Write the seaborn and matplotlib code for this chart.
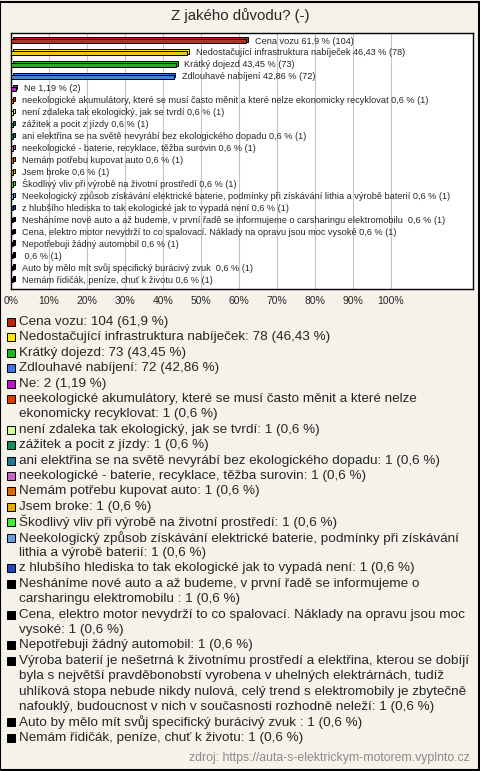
import matplotlib
matplotlib.use("Agg")
import numpy as np
import pandas as pd
import matplotlib.pyplot as plt
import seaborn as sns
from matplotlib.patches import Rectangle

# data
bar_labels = [
    "Cena vozu",
    "Nedostačující infrastruktura nabíječek",
    "Krátký dojezd",
    "Zdlouhavé nabíjení",
    "Ne",
    "neekologické akumulátory, které se musí často měnit a které nelze ekonomicky recyklovat",
    "není zdaleka tak ekologický, jak se tvrdí",
    "zážitek a pocit z jízdy",
    "ani elektřina se na světě nevyrábí bez ekologického dopadu",
    "neekologické - baterie, recyklace, těžba surovin",
    "Nemám potřebu kupovat auto",
    "Jsem broke",
    "Škodlivý vliv při výrobě na životní prostředí",
    "Neekologický způsob získávání elektrické baterie, podmínky při získávání lithia a výrobě baterií",
    "z hlubšího hlediska to tak ekologické jak to vypadá není",
    "Nesháníme nové auto a až budeme, v první řadě se informujeme o carsharingu elektromobilu ",
    "Cena, elektro motor nevydrží to co spalovací. Náklady na opravu jsou moc vysoké",
    "Nepotřebuji žádný automobil",
    "",
    "Auto by mělo mít svůj specifický burácivý zvuk ",
    "Nemám řidičák, peníze, chuť k životu",
]
legend_labels = [
    "Cena vozu",
    "Nedostačující infrastruktura nabíječek",
    "Krátký dojezd",
    "Zdlouhavé nabíjení",
    "Ne",
    "neekologické akumulátory, které se musí často měnit a které nelze\nekonomicky recyklovat",
    "není zdaleka tak ekologický, jak se tvrdí",
    "zážitek a pocit z jízdy",
    "ani elektřina se na světě nevyrábí bez ekologického dopadu",
    "neekologické - baterie, recyklace, těžba surovin",
    "Nemám potřebu kupovat auto",
    "Jsem broke",
    "Škodlivý vliv při výrobě na životní prostředí",
    "Neekologický způsob získávání elektrické baterie, podmínky při získávání\nlithia a výrobě baterií",
    "z hlubšího hlediska to tak ekologické jak to vypadá není",
    "Nesháníme nové auto a až budeme, v první řadě se informujeme o\ncarsharingu elektromobilu ",
    "Cena, elektro motor nevydrží to co spalovací. Náklady na opravu jsou moc\nvysoké",
    "Nepotřebuji žádný automobil",
    "Výroba baterií je nešetrná k životnímu prostředí a elektřina, kterou se dobíjí\n"
    "byla s největší pravděbonobstí vyrobena v uhelných elektrárnách, tudíž\n"
    "uhlíková stopa nebude nikdy nulová, celý trend s elektromobily je zbytečně\n"
    "nafouklý, budoucnost v nich v současnosti rozhodně neleží",
    "Auto by mělo mít svůj specifický burácivý zvuk ",
    "Nemám řidičák, peníze, chuť k životu",
]
counts = [104, 78, 73, 72, 2] + [1] * 16
percents = [61.9, 46.43, 43.45, 42.86, 1.19] + [0.6] * 16
colors = ["#c0230f", "#ffe800", "#1cb81c", "#4272e8", "#c012c8", "#dc3a06",
          "#ccff99", "#14905a", "#1f7a90", "#c864c8", "#e06a00", "#e4ac00",
          "#44ee33", "#6b9be0", "#2248c0"] + ["#000000"] * 6
x_ticks = list(range(0, 101, 10))


def fmt(v):
    return f"{v:g}".replace(".", ",")


df = pd.DataFrame({"row": [str(i) for i in range(len(percents))],
                   "pct": percents, "color": colors})

sns.set_style("white")
plt.rcParams["font.family"] = ["Liberation Sans", "DejaVu Sans"]

bg = "#f4f2e9"
fig = plt.figure(figsize=(4.8, 7.71), dpi=100, facecolor=bg)
W, H = 480, 771
ax = fig.add_axes([11 / W, 1 - 289 / H, (473 - 11) / W, (289 - 33) / H])
ax.set_facecolor("white")

n = len(percents)
ypos = np.arange(n)
# back face for the 3D look
ax.barh(ypos - 0.13, df["pct"], left=0.4, height=0.36, color=colors,
        edgecolor="black", linewidth=0.7, zorder=2)
sns.barplot(data=df, x="pct", y="row", hue="row", palette=colors, legend=False,
            orient="h", width=0.36, edgecolor="black", linewidth=0.7, ax=ax,
            zorder=3)

for i in range(n):
    txt = f"{bar_labels[i]} {fmt(percents[i])} % ({counts[i]})"
    ax.annotate(txt, (percents[i], i), xytext=(6, 0), textcoords="offset points",
                va="center", ha="left", fontsize=6.6, zorder=4)

ax.set_xlim(0, 121.6)
ax.set_ylim(n - 0.25, -0.67)
ax.set_xticks(x_ticks)
ax.set_xticklabels([f"{t}%" for t in x_ticks], fontsize=7.5)
ax.tick_params(axis="x", length=0, pad=5)
ax.set_yticks([])
ax.set_xlabel("")
ax.set_ylabel("")
ax.grid(axis="x", color="#c4c4c4", linewidth=0.8)
ax.set_axisbelow(True)
for s in ax.spines.values():
    s.set_color("black")
    s.set_linewidth(1)

fig.text(0.5, 1 - 16 / H, "Z jakého důvodu? (-)", ha="center", va="center",
         fontsize=10.8)

# legend below the chart
y = 322
step = 15.4
for i in range(n):
    lines = f"{legend_labels[i]}: {counts[i]} ({fmt(percents[i])} %)".split("\n")
    fig.patches.append(Rectangle((7 / W, 1 - (y + 4) / H), 8 / W, 8 / H,
                                 transform=fig.transFigure, facecolor=colors[i],
                                 edgecolor="black", linewidth=0.7))
    for line in lines:
        fig.text(19 / W, 1 - y / H, line, ha="left", va="center", fontsize=9.7)
        y += step

fig.text(470 / W, 1 - 758 / H, "zdroj: https://auta-s-elektrickym-motorem.vyplnto.cz",
         ha="right", va="center", fontsize=8.8, color="#8a8a8a")

fig.patches.append(Rectangle((0.001, 0.001), 0.997, 0.997, transform=fig.transFigure,
                             fill=False, edgecolor="black", linewidth=1.5))

fig.savefig("out.png", dpi=100, facecolor=bg)
